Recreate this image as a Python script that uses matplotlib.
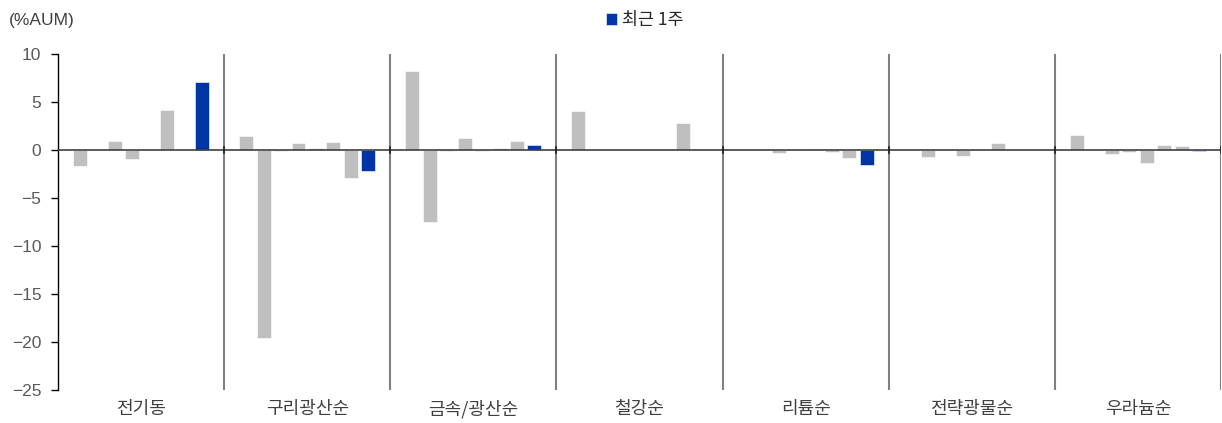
import numpy as np
import matplotlib
matplotlib.use("Agg")
import matplotlib.pyplot as plt

plt.rcParams['font.family'] = ['Noto Sans CJK KR', 'DejaVu Sans']

# 카테고리
categories = ['전기동', '구리광산순', '금속/광산순', '철강순', '리튬순', '전략광물순', '우라늄순']

# 회색 시리즈 (이전 기간들), 마지막이 최근 1주
series_1 = [-1.7, 1.5, 8.2, 4.1, 0.0, 0.0, 1.55]
series_2 = [0.0, -19.6, -7.45, 0.0, 0.0, -0.7, 0.0]
series_3 = [0.9, -0.15, -0.15, 0.0, -0.3, 0.0, -0.4]
series_4 = [-0.9, 0.75, 1.3, 0.0, 0.0, -0.65, -0.2]
series_5 = [0.0, 0.2, -0.15, 0.0, 0.15, 0.0, -1.4]
series_6 = [4.2, 0.8, 0.25, 0.0, -0.2, 0.7, 0.55]
series_7 = [0.0, -2.95, 0.95, 2.8, -0.85, 0.0, 0.4]
recent_1w = [7.1, -2.2, 0.5, 0.0, -1.6, 0.0, -0.1]

y_ticks = [10, 5, 0, -5, -10, -15, -20, -25]

GRAY = '#BFBFBF'
BLUE = '#0035A6'

fig = plt.figure(figsize=(12.22, 4.23), dpi=100)
ax = fig.add_axes([58 / 1222, 1 - 390 / 423, (1221 - 58) / 1222, (390 - 54) / 423])

all_series = [series_1, series_2, series_3, series_4, series_5, series_6, series_7, recent_1w]
n = len(all_series)
x = np.arange(len(categories))
step = 0.105
width = 0.084
for k, vals in enumerate(all_series):
    color = BLUE if k == n - 1 else GRAY
    label = '최근 1주' if k == n - 1 else None
    ax.bar(x + 0.5 + (k - (n - 1) / 2) * step, vals, width=width, color=color,
           edgecolor='white', linewidth=0.4, label=label, zorder=2)

ax.set_xlim(0, len(categories))
ax.set_ylim(-25, 10)

# 그룹 구분선
for b in range(1, len(categories) + 1):
    ax.axvline(b, color='#808080', linewidth=1.5, zorder=1)
ax.axhline(0, color='#404040', linewidth=1.2, zorder=3)
for b in range(1, len(categories) + 1):
    ax.plot([b, b], [-0.35, 0.35], color='#202020', linewidth=1.2, zorder=4)

ax.set_yticks(y_ticks)
ax.set_yticklabels([str(v).replace('-', '\u2212') for v in y_ticks],
                   family=['Liberation Sans', 'DejaVu Sans'], fontsize=12.5, color='#595959')
ax.tick_params(axis='y', direction='out', length=5, width=1, color='black', pad=7)

ax.set_xticks(x + 0.5)
ax.set_xticklabels(categories, fontsize=13, color='#404040')
ax.tick_params(axis='x', length=0, pad=7)

for s in ['top', 'right', 'bottom']:
    ax.spines[s].set_visible(False)
ax.spines['left'].set_color('black')
ax.spines['left'].set_linewidth(1)

fig.text(9 / 1222, 1 - 21 / 423, '(%AUM)', fontsize=12.5, color='#404040', va='center',
         family=['Liberation Sans', 'DejaVu Sans'])

leg = fig.legend(loc='center', bbox_to_anchor=(645 / 1222, 1 - 20 / 423), frameon=False,
                 fontsize=12.5, handlelength=0.65, handleheight=0.65, handletextpad=0.3)
for t in leg.get_texts():
    t.set_color('#262626')

fig.savefig('out.png', dpi=100)
